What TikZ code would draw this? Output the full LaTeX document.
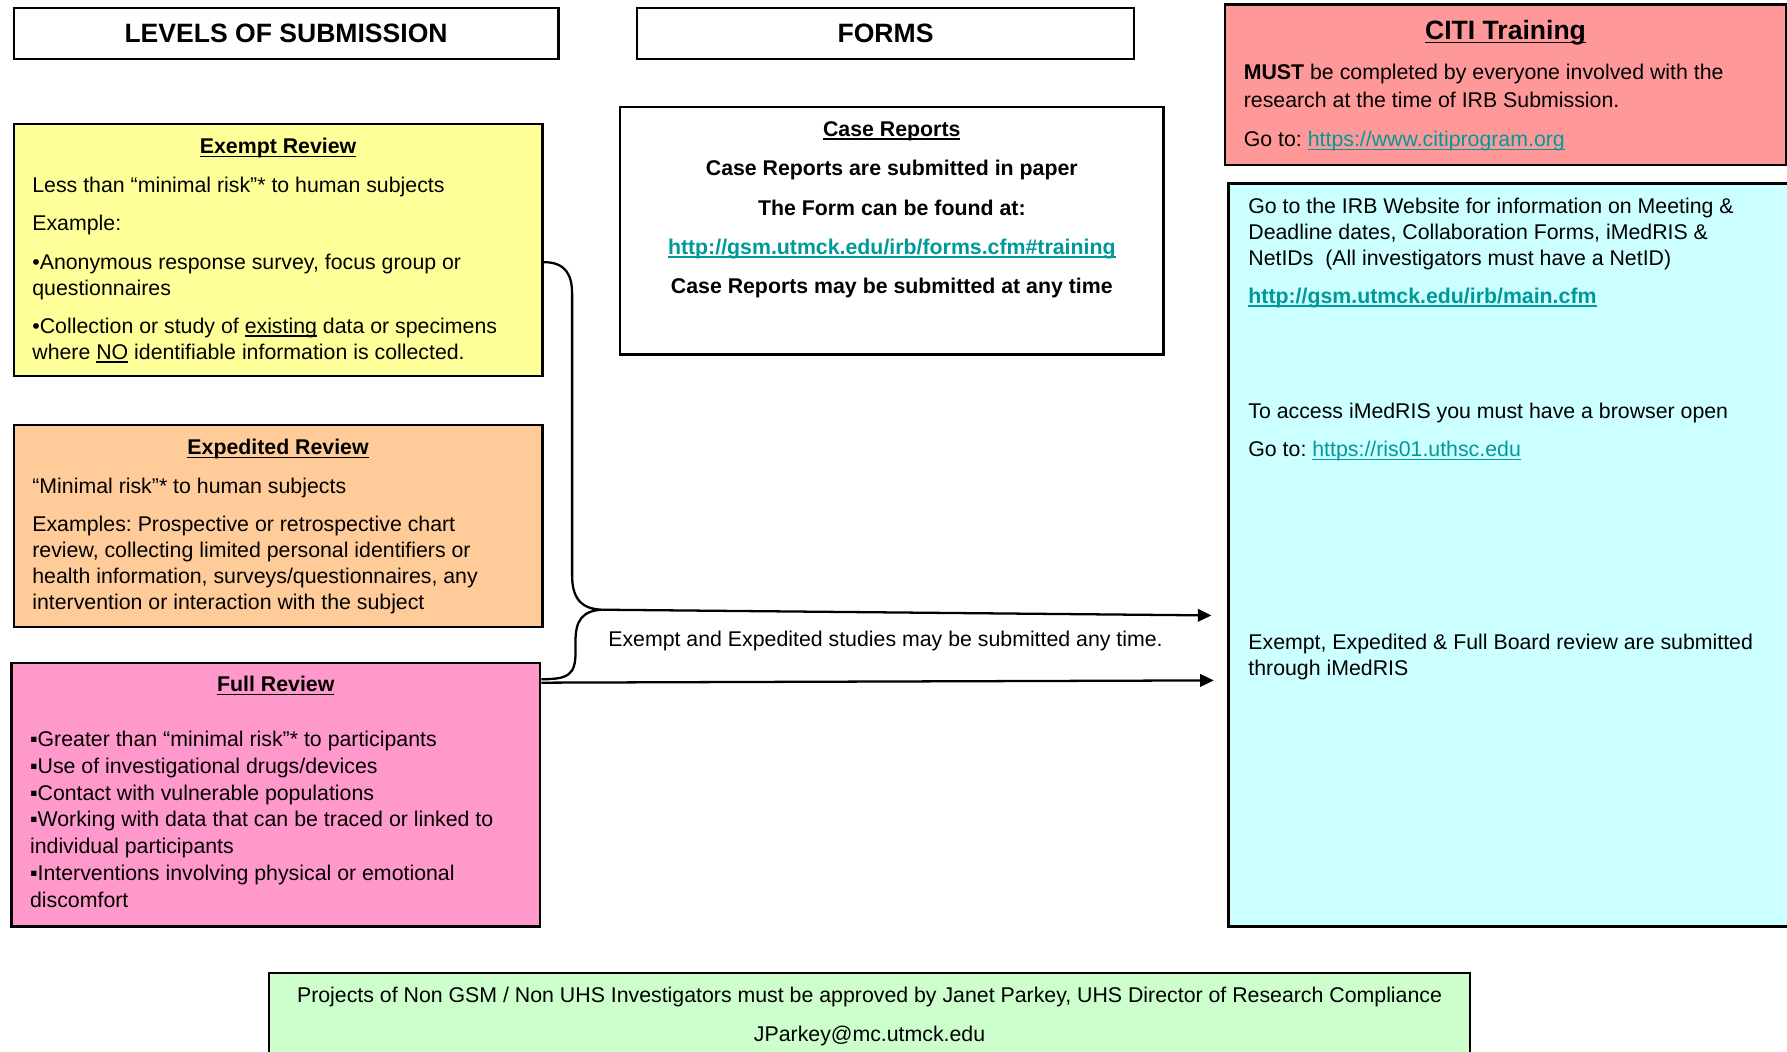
\documentclass[tikz,border=0pt]{standalone}
\usepackage{fontspec}
\setmainfont{Liberation Sans}
\usepackage{tikz}
\usetikzlibrary{arrows.meta,positioning,calc}

\definecolor{exemptfill}{HTML}{FFFF99}
\definecolor{expeditedfill}{HTML}{FFCC99}
\definecolor{fullfill}{HTML}{FF99CC}
\definecolor{citifill}{HTML}{FF9999}
\definecolor{imedfill}{HTML}{CCFFFF}
\definecolor{footfill}{HTML}{CCFFCC}
\definecolor{linkteal}{HTML}{009999}

\frenchspacing
\newcommand{\uln}[1]{\begingroup\setbox0=\hbox{#1}\rlap{\rule[-1.5pt]{\wd0}{0.65pt}}\box0\endgroup}
\newcommand{\lnk}[1]{\textcolor{linkteal}{\uln{#1}}}

\begin{document}
\begin{tikzpicture}[x=0.5pt,y=-0.5pt,>={Triangle[length=6pt,width=5.5pt]},
  every node/.style={inner sep=0pt,font=\fontsize{9.35}{11.4}\selectfont},
  panel/.style={draw,line width=1pt,anchor=north west},
  heading/.style={panel,font=\fontsize{11.65}{14}\selectfont\bfseries},
  boxtitle/.style={font=\fontsize{9.35}{11.4}\selectfont\bfseries},
  body/.style={align=left},
  conn/.style={line width=1pt}]
    \useasboundingbox (0,0) rectangle (1568,923);
    \clip (0,0) rectangle (1568,923);

    % column heads
    \node[heading,minimum width=239pt,minimum height=22.5pt](levels) at (11,6) {LEVELS OF SUBMISSION};
    \node[heading,minimum width=218pt,minimum height=22.5pt](forms) at (558,6) {FORMS};

    % levels of review
    \node[panel,fill=exemptfill,minimum width=232pt,minimum height=110.5pt](exempt) at (11,108) {};
    \node[boxtitle,below=6.5pt of exempt.north](exempttitle) {\uln{Exempt Review}};
    \node[body,below right=23.5pt and 8.5pt of exempt.north west](exempttext)
      {Less than “minimal risk”* to human subjects\\[5.4pt]
       Example:\\[5.4pt]
       •Anonymous response survey, focus group or\\
       questionnaires\\[5.4pt]
       •Collection or study of \uln{existing} data or specimens\\
       where \uln{NO} identifiable information is collected.};

    \node[panel,fill=expeditedfill,minimum width=232pt,minimum height=88.5pt](expedited) at (11,372) {};
    \node[boxtitle,below=6.5pt of expedited.north](expeditedtitle) {\uln{Expedited Review}};
    \node[body,below right=23.5pt and 8.5pt of expedited.north west](expeditedtext)
      {“Minimal risk”* to human subjects\\[5.2pt]
       Examples: Prospective or retrospective chart\\
       review, collecting limited personal identifiers or\\
       health information, surveys/questionnaires, any\\
       intervention or interaction with the subject};

    \node[panel,fill=fullfill,minimum width=232pt,minimum height=115.5pt](full) at (9,581) {};
    \node[boxtitle,below=6pt of full.north](fulltitle) {\uln{Full Review}};
    \node[body,font=\fontsize{9.35}{11.75}\selectfont,below right=30pt and 8.5pt of full.north west](fulltext)
      {▪Greater than “minimal risk”* to participants\\
       ▪Use of investigational drugs/devices\\
       ▪Contact with vulnerable populations\\
       ▪Working with data that can be traced or linked to\\
       individual participants\\
       ▪Interventions involving physical or emotional\\
       discomfort};

    % forms
    \node[panel,minimum width=238.5pt,minimum height=108.5pt](cases) at (543,93) {};
    \node[align=center,font=\fontsize{9.35}{11.4}\selectfont\bfseries,below=6.5pt of cases.north](casestext)
      {\uln{Case Reports}\\[5.9pt]
       Case Reports are submitted in paper\\[5.9pt]
       The Form can be found at:\\[5.9pt]
       \lnk{http://gsm.utmck.edu/irb/forms.cfm\#training}\\[5.9pt]
       Case Reports may be submitted at any time};

    % training and submission
    \node[panel,fill=citifill,minimum width=246pt,minimum height=70.5pt](citi) at (1074,3) {};
    \node[font=\fontsize{11.65}{14}\selectfont\bfseries,below=7.3pt of citi.north](citititle) {\uln{CITI Training}};
    \node[body,font=\fontsize{9.35}{12}\selectfont,below right=26.5pt and 8.5pt of citi.north west](cititext)
      {\textbf{MUST} be completed by everyone involved with the\\
       research at the time of IRB Submission.\\[5.5pt]
       Go to: \lnk{https://www.citiprogram.org}};

    \node[panel,fill=imedfill,minimum width=249pt,minimum height=326pt](imed) at (1077,160) {};
    \node[body,font=\fontsize{9.35}{11.5}\selectfont,below right=6.5pt and 9pt of imed.north west](imedweb)
      {Go to the IRB Website for information on Meeting \&\\
       Deadline dates, Collaboration Forms, iMedRIS \&\\
       NetIDs\ \ (All investigators must have a NetID)\\[5pt]
       \textbf{\lnk{http://gsm.utmck.edu/irb/main.cfm}}};
    \node[body,below right=96.5pt and 9pt of imed.north west](imedaccess)
      {To access iMedRIS you must have a browser open\\[5.5pt]
       Go to: \lnk{https://ris01.uthsc.edu}};
    \node[body,below right=198pt and 9pt of imed.north west](imedsubmit)
      {Exempt, Expedited \& Full Board review are submitted\\
       through iMedRIS};

    \node[panel,fill=footfill,minimum width=527pt,minimum height=41pt](foot) at (235,853) {};
    \node[align=center,below=6.5pt of foot.north](foottext)
      {Projects of Non GSM / Non UHS Investigators must be approved by Janet Parkey, UHS Director of Research Compliance\\[5.5pt]
       JParkey@mc.utmck.edu};

    % brace and arrows
    \coordinate (tip) at (530,535);
    \coordinate (inExp) at (1063,540);
    \coordinate (inFull) at (1065,597);
    \node[anchor=base](anytime) at (777,567) {Exempt and Expedited studies may be submitted any time.};

    \draw[conn] ([yshift=-61pt]exempt.north east)
        .. controls +(10pt,0) and +(0,8pt) .. (502,258) -- (502,505)
        .. controls +(0,-10pt) and +(-10pt,0) .. (tip)
        .. controls +(-10pt,0) and +(0,8pt) .. (505,562) -- (505,572)
        .. controls +(0,-10pt) and +(12pt,0) .. ([yshift=-7.5pt]full.north east);
    \draw[conn,->] (tip) -- (inExp);
    \draw[conn,->] ([yshift=-9pt]full.north east) -- (inFull);
\end{tikzpicture}
\end{document}
